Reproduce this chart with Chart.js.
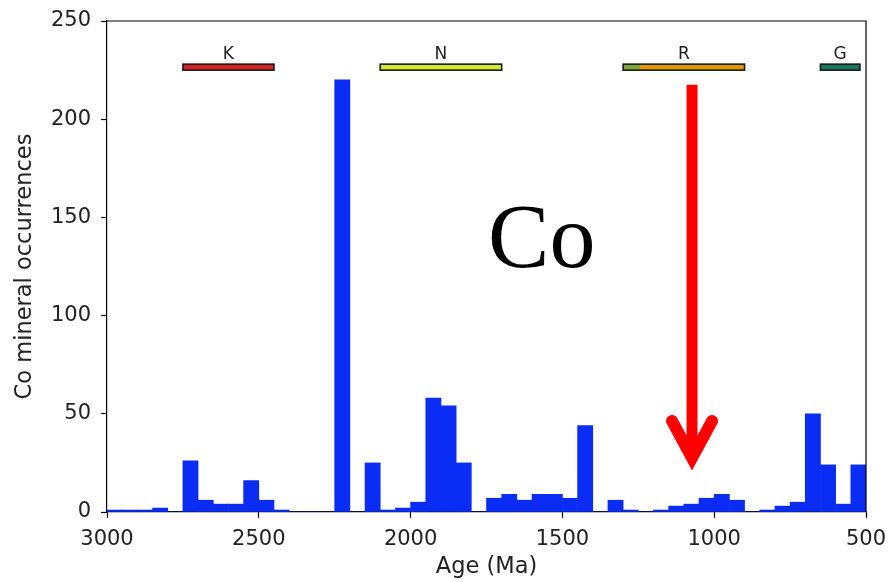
<!DOCTYPE html>
<html>
<head>
<meta charset="utf-8">
<script src="https://cdn.jsdelivr.net/npm/chart.js@4/dist/chart.umd.min.js"></script>
<style>
  html, body { margin: 0; padding: 0; background: #ffffff; }
  #wrap { width: 889px; height: 582px; position: relative; }
</style>
</head>
<body>
<div id="wrap"><canvas id="c" width="889" height="582"></canvas></div>
<script>
// Histogram of Co mineral occurrences in 50 Myr bins, oldest first (3000 -> 500 Ma)
const binStart = [3000, 2950, 2900, 2850, 2800, 2750, 2700, 2650, 2600, 2550,
                  2500, 2450, 2400, 2350, 2300, 2250, 2200, 2150, 2100, 2050,
                  2000, 1950, 1900, 1850, 1800, 1750, 1700, 1650, 1600, 1550,
                  1500, 1450, 1400, 1350, 1300, 1250, 1200, 1150, 1100, 1050,
                  1000, 950, 900, 850, 800, 750, 700, 650, 600, 550];
const counts =   [1, 1, 1, 2, 0, 26, 6, 4, 4, 16,
                  6, 1, 0, 0, 0, 220, 0, 25, 1, 2,
                  5, 58, 54, 25, 0, 7, 9, 6, 9, 9,
                  7, 44, 0, 6, 1, 0, 1, 3, 4, 7,
                  9, 6, 0, 1, 3, 5, 50, 24, 4, 24];
const binWidth = 50;

// Supercontinent intervals (Ma)
const eonNames = ['K', 'N', 'R', 'G'];
const eonOld   = [2750, 2100, 1300, 650];
const eonYoung = [2450, 1700, 900, 520];

// Axis ticks
const xTicks = [3000, 2500, 2000, 1500, 1000, 500];
const yTicks = [0, 50, 100, 150, 200, 250];

const eonFill = { K: '#d42020', N: '#d4ec2c', R: '#e09a00', G: '#157a5c' };

const barData = binStart.map((s, i) => ({ x: s - binWidth / 2, y: counts[i] }));

const tickFont = { family: 'DejaVu Sans', size: 21 };
const titleFont = { family: 'DejaVu Sans', size: 22.5 };

// Draws the frame, supercontinent bars, the element label and the arrow
const overlay = {
  id: 'overlay',
  afterDatasetsDraw(chart) {
    const { ctx, chartArea: a, scales: { x, y } } = chart;
    ctx.save();

    // top and right spines
    ctx.strokeStyle = '#000';
    ctx.lineWidth = 1.2;
    ctx.beginPath();
    ctx.moveTo(a.left, a.top);
    ctx.lineTo(a.right, a.top);
    ctx.lineTo(a.right, a.bottom);
    ctx.stroke();

    // supercontinent bars
    const barY = y.getPixelForValue(226.5);
    eonNames.forEach((n, i) => {
      const x0 = x.getPixelForValue(eonOld[i]);
      const x1 = x.getPixelForValue(eonYoung[i]);
      ctx.fillStyle = eonFill[n];
      ctx.strokeStyle = '#1a1a1a';
      ctx.lineWidth = 1.6;
      ctx.fillRect(x0, barY - 3, x1 - x0, 6);
      if (n === 'R') {
        ctx.fillStyle = '#7aa83a';
        ctx.fillRect(x0, barY - 3, x.getPixelForValue(eonOld[i] - 55) - x0, 6);
      }
      ctx.strokeRect(x0, barY - 3, x1 - x0, 6);
      ctx.fillStyle = '#222';
      ctx.font = '17px "DejaVu Sans"';
      ctx.textAlign = 'center';
      ctx.textBaseline = 'alphabetic';
      ctx.fillText(n, (x0 + x1) / 2, barY - 8);
    });

    // element label
    ctx.fillStyle = '#000';
    ctx.font = '92px "Liberation Serif"';
    ctx.textAlign = 'center';
    ctx.textBaseline = 'alphabetic';
    ctx.fillText('Co', x.getPixelForValue(1568), y.getPixelForValue(124.5));

    // arrow
    const ax = x.getPixelForValue(1073);
    const aTop = y.getPixelForValue(217.5);
    const aTip = y.getPixelForValue(27.5);
    ctx.strokeStyle = '#ff0000';
    ctx.lineWidth = 11;
    ctx.lineCap = 'butt';
    ctx.beginPath();
    ctx.moveTo(ax, aTop);
    ctx.lineTo(ax, aTip - 4);
    ctx.stroke();
    ctx.lineWidth = 12;
    ctx.lineCap = 'round';
    ctx.lineJoin = 'miter';
    ctx.miterLimit = 10;
    ctx.beginPath();
    ctx.moveTo(ax - 20, aTip - 37);
    ctx.lineTo(ax, aTip);
    ctx.lineTo(ax + 20, aTip - 37);
    ctx.stroke();

    ctx.restore();
  }
};

new Chart(document.getElementById('c'), {
  type: 'bar',
  data: {
    datasets: [{
      data: barData,
      backgroundColor: '#0b2cf4',
      borderWidth: 0,
      barPercentage: 1.0,
      categoryPercentage: 1.0
    }]
  },
  options: {
    responsive: false,
    animation: false,
    devicePixelRatio: 1,
    layout: { padding: { left: 0, right: 23, top: 21, bottom: 0 } },
    plugins: { legend: { display: false }, tooltip: { enabled: false } },
    scales: {
      x: {
        type: 'linear',
        reverse: true,
        min: 500,
        max: 3000,
        offset: false,
        afterFit: s => { s.height = 70; s.paddingLeft = 0; s.paddingRight = 0; },
        afterBuildTicks: s => { s.ticks = xTicks.map(v => ({ value: v })); },
        grid: { drawOnChartArea: false, drawTicks: true, tickLength: 6, tickColor: '#000', tickWidth: 1.2, offset: false },
        border: { display: true, color: '#000', width: 1.2 },
        ticks: { color: '#222', font: tickFont, padding: 9, maxRotation: 0, callback: v => String(v) },
        title: { display: true, text: 'Age (Ma)', color: '#222', font: titleFont, padding: { top: 0, bottom: 1 } }
      },
      y: {
        min: 0,
        max: 250,
        afterFit: s => { s.width = 107; s.paddingTop = 0; s.paddingBottom = 0; },
        afterBuildTicks: s => { s.ticks = yTicks.map(v => ({ value: v })); },
        grid: { drawOnChartArea: false, drawTicks: true, tickLength: 6, tickColor: '#000', tickWidth: 1.2 },
        border: { display: true, color: '#000', width: 1.2 },
        ticks: { color: '#222', font: tickFont, padding: 10, callback: v => String(v) },
        title: { display: true, text: 'Co mineral occurrences', color: '#222', font: titleFont, padding: { top: 12, bottom: 0 } }
      }
    }
  },
  plugins: [overlay]
});
</script>
</body>
</html>
